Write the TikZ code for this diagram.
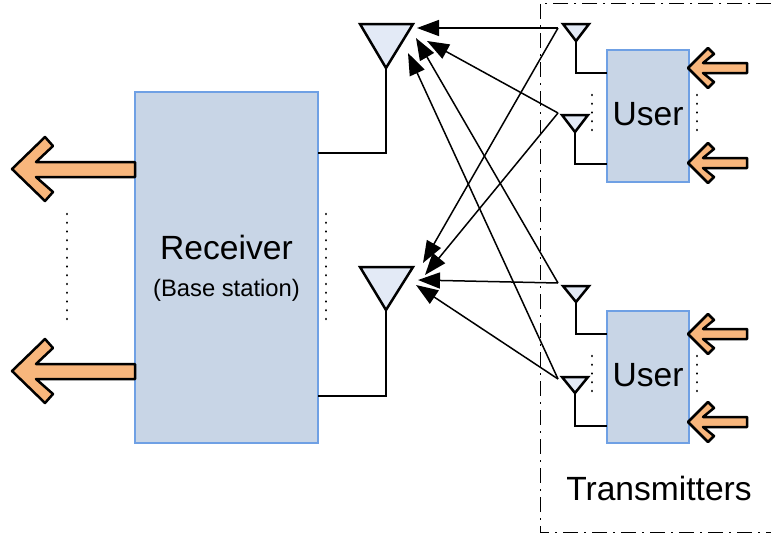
\documentclass[tikz,border=0pt]{standalone}
\usepackage{fontspec}
\setmainfont{Liberation Sans}
\usetikzlibrary{arrows.meta}
\definecolor{BoxFill}{HTML}{C8D5E6}
\definecolor{BoxEdge}{HTML}{6FA0E4}
\definecolor{AntFill}{HTML}{E3EAF6}
\definecolor{InFill}{HTML}{F8B67C}
\tikzset{
	BoxStyle/.style={draw=BoxEdge, fill=BoxFill, line width=2.2pt, inner sep=0pt, align=center},
	AntStyle/.style={draw=black, fill=AntFill, line width=2.5pt, line join=miter},
	WireStyle/.style={draw=black, line width=2.5pt},
	FatArrow/.style={draw=black, fill=InFill, line width=2.5pt, line join=round},
	RayStyle/.style={line width=1.5pt, -{Triangle[length=22pt,width=16pt]}},
	DotStyle/.style={line width=2.6pt, line cap=round, dash pattern=on 0.01pt off 8.74pt},
	BigText/.style={font=\fontsize{33.6}{40}\selectfont},
	SmallText/.style={font=\fontsize{23.8}{28}\selectfont}
}

\begin{document}
\begin{tikzpicture}[x=1pt, y=-1pt]
	\useasboundingbox (0,0) rectangle (771,538);
	\pgfmathsetmacro{\LongShaft}{123}
	\pgfmathsetmacro{\ShortShaft}{59}
	\coordinate(OutTipA) at (12,169);
	\coordinate(OutTipB) at (12,371);
	\coordinate(InTipA) at (688,68);
	\coordinate(InTipB) at (688,163);
	\coordinate(InTipC) at (688,334);
	\coordinate(InTipD) at (688,422);
	\coordinate(PortA) at (318,153);
	\coordinate(PortB) at (318,396);
	\coordinate(UserPortA) at (607,73);
	\coordinate(UserPortB) at (607,164);
	\coordinate(UserPortC) at (607,334);
	\coordinate(UserPortD) at (607,426);
	\coordinate(SourceA) at (558,28);
	\coordinate(SourceB) at (558,113);
	\coordinate(SourceC) at (558,283);
	\coordinate(SourceD) at (558,379);
	\coordinate(AntApexA) at (386,68);
	\coordinate(AntApexB) at (386,310);
	\coordinate(TxApexA) at (576,41);
	\coordinate(TxApexB) at (575,132);
	\coordinate(TxApexC) at (576,302);
	\coordinate(TxApexD) at (575,393);
	\coordinate(TipTopA) at (417,28);
	\coordinate(TipTopB) at (427,41);
	\coordinate(TipTopC) at (416,38);
	\coordinate(TipTopD) at (408,53);
	\coordinate(TipLowA) at (423,263);
	\coordinate(TipLowB) at (425,275);
	\coordinate(TipLowC) at (418,280);
	\coordinate(TipLowD) at (416,285);

	% BOXES
	\node[BoxStyle, minimum width=183pt, minimum height=351pt] (Receiver) at (226.5,267.5) {};
	\node[BigText] (RxLabel) at (226.5,247) {Receiver};
	\node[SmallText] (RxNote) at (226.5,290) {(Base station)};
	\node[BoxStyle, BigText, minimum width=82pt, minimum height=132pt, text depth=4pt] (UserTop) at (648,116) {User};
	\node[BoxStyle, BigText, minimum width=82pt, minimum height=132pt, text depth=4pt] (UserLow) at (648,377) {User};
	\node[BigText] (TxLabel) at (659,488) {Transmitters};

	% TRANSMITTER FRAME
	\draw[line width=1pt, dash pattern=on 15pt off 6pt on 2pt off 6pt] (771,3) -- (540,3) -- (540,532) -- (771,532);

	% RECEIVE ANTENNAS
	\draw[AntStyle] (360,24) -- (413,24) -- (AntApexA) -- cycle;
	\draw[AntStyle] (360,267) -- (413,267) -- (AntApexB) -- cycle;
	\draw[WireStyle] (AntApexA) |- (PortA);
	\draw[WireStyle] (AntApexB) |- (PortB);

	% TRANSMIT ANTENNAS
	\draw[AntStyle] (563,24) -- (589,24) -- (TxApexA) -- cycle;
	\draw[AntStyle] (562,115) -- (588,115) -- (TxApexB) -- cycle;
	\draw[AntStyle] (563,286) -- (589,286) -- (TxApexC) -- cycle;
	\draw[AntStyle] (562,377) -- (588,377) -- (TxApexD) -- cycle;
	\draw[WireStyle] (TxApexA) |- (UserPortA);
	\draw[WireStyle] (TxApexB) |- (UserPortB);
	\draw[WireStyle] (TxApexC) |- (UserPortC);
	\draw[WireStyle] (TxApexD) |- (UserPortD);

	% RAYS
	\draw[RayStyle] (SourceA) -- (TipTopA);
	\draw[RayStyle] (SourceB) -- (TipTopB);
	\draw[RayStyle] (SourceC) -- (TipTopC);
	\draw[RayStyle] (SourceD) -- (TipTopD);
	\draw[RayStyle] (SourceA) -- (TipLowA);
	\draw[RayStyle] (SourceB) -- (TipLowB);
	\draw[RayStyle] (SourceC) -- (TipLowC);
	\draw[RayStyle] (SourceD) -- (TipLowD);

	% OUTPUT ARROWS
	\draw[FatArrow, shift={(OutTipA)}] (0,0) -- (33,-32) -- (41,-23) -- (24,-7) -- (\LongShaft,-7) -- (\LongShaft,8) -- (24,8) -- (41,23) -- (33,32) -- cycle;
	\draw[FatArrow, shift={(OutTipB)}] (0,0) -- (33,-32) -- (41,-23) -- (24,-7) -- (\LongShaft,-7) -- (\LongShaft,8) -- (24,8) -- (41,23) -- (33,32) -- cycle;

	% INPUT ARROWS
	\draw[FatArrow, shift={(InTipA)}] (0,0) -- (20,-20) -- (26,-14) -- (15,-5) -- (\ShortShaft,-5) -- (\ShortShaft,5) -- (15,5) -- (26,14) -- (20,20) -- cycle;
	\draw[FatArrow, shift={(InTipB)}] (0,0) -- (20,-20) -- (26,-14) -- (15,-5) -- (\ShortShaft,-5) -- (\ShortShaft,5) -- (15,5) -- (26,14) -- (20,20) -- cycle;
	\draw[FatArrow, shift={(InTipC)}] (0,0) -- (20,-20) -- (26,-14) -- (15,-5) -- (\ShortShaft,-5) -- (\ShortShaft,5) -- (15,5) -- (26,14) -- (20,20) -- cycle;
	\draw[FatArrow, shift={(InTipD)}] (0,0) -- (20,-20) -- (26,-14) -- (15,-5) -- (\ShortShaft,-5) -- (\ShortShaft,5) -- (15,5) -- (26,14) -- (20,20) -- cycle;

	% DOTS
	\draw[DotStyle] (67,214) -- (67,320);
	\draw[DotStyle] (326,214) -- (326,320);
	\draw[DotStyle] (592,95) -- (592,131);
	\draw[DotStyle] (697,95) -- (697,131);
	\draw[DotStyle] (592,356) -- (592,392);
	\draw[DotStyle] (697,356) -- (697,392);
\end{tikzpicture}
\end{document}
